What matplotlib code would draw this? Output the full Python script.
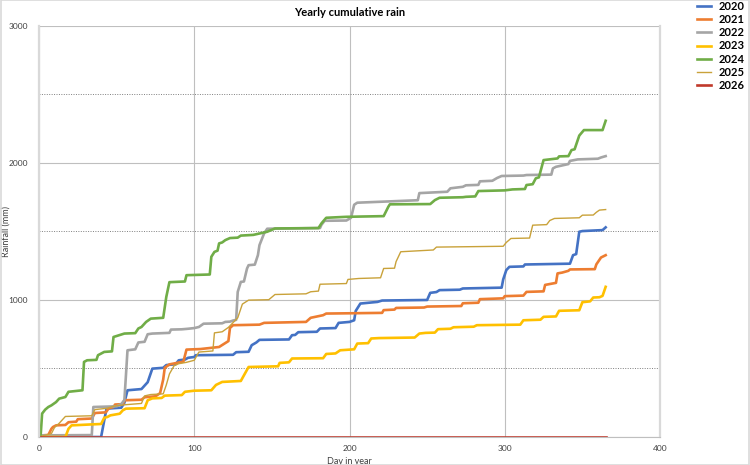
import matplotlib
matplotlib.use("Agg")
import matplotlib.pyplot as plt
from matplotlib.ticker import MultipleLocator

plt.rcParams['font.family'] = ['Lato', 'DejaVu Sans']

# (day, cumulative mm)
rain_2020 = [(0, 0), (40, 0), (42, 120), (43.5, 207), (53, 214), (55, 250), (57, 341), (66, 350),
             (70, 400), (73, 499), (80, 505), (82, 525), (88, 531), (90, 560), (94, 565), (96, 578),
             (100, 584), (101, 597), (125, 600), (127, 619), (135, 622), (137, 670), (140, 690),
             (142, 709), (161, 712), (163, 743), (165, 745), (167, 765), (179, 768), (181, 792),
             (191, 795), (193, 833), (200, 840), (203, 852), (204, 920), (207, 974), (218, 986),
             (221, 996), (250, 1000), (252, 1052), (256, 1058), (258, 1072), (271, 1075), (273, 1084),
             (298, 1090), (299, 1150), (301, 1218), (303, 1242), (312, 1245), (313, 1259), (342, 1265),
             (344, 1327), (346, 1335), (348, 1498), (350, 1503), (363, 1510), (365, 1530)]
rain_2021 = [(0, 0), (2, 12), (6, 15), (8, 60), (9, 73), (11, 85), (17, 88), (19, 108), (24, 112),
             (25, 130), (34, 135), (36, 175), (43, 180), (45, 210), (48, 219), (49, 237), (54, 240),
             (55, 268), (66, 272), (68, 290), (75, 297), (78, 320), (80, 420), (81, 505), (84, 530),
             (93, 550), (95, 638), (104, 642), (116, 657), (122, 700), (123, 796), (125, 816),
             (142, 820), (145, 833), (172, 840), (175, 870), (183, 889), (185, 901), (200, 903),
             (221, 906), (222, 926), (229, 930), (230, 942), (248, 945), (250, 952), (272, 956),
             (273, 976), (283, 980), (284, 1006), (299, 1012), (300, 1028), (312, 1032), (314, 1059),
             (325, 1063), (326, 1110), (333, 1125), (334, 1194), (337, 1200), (341, 1213), (342, 1223),
             (358, 1225), (359, 1260), (362, 1310), (365, 1327)]
rain_2022 = [(0, 0), (1, 12), (34, 14), (35, 219), (50, 224), (53, 240), (55, 270), (56, 450),
             (57, 633), (62, 640), (64, 690), (68, 695), (70, 750), (73, 755), (84, 760), (85, 784),
             (92, 786), (96, 790), (100, 795), (103, 803), (106, 827), (118, 830), (120, 840),
             (123, 842), (125, 850), (127, 855), (128, 1059), (130, 1132), (132, 1135), (134, 1230),
             (135, 1254), (139, 1258), (141, 1327), (142, 1400), (145, 1486), (147, 1520), (181, 1525),
             (182, 1550), (184, 1578), (198, 1580), (201, 1600), (203, 1695), (205, 1710), (244, 1728),
             (245, 1780), (263, 1790), (265, 1815), (273, 1826), (275, 1837), (283, 1840), (284, 1866),
             (292, 1870), (295, 1890), (298, 1905), (312, 1908), (314, 1912), (330, 1915), (331, 1960),
             (333, 1972), (341, 1992), (342, 2015), (347, 2026), (360, 2031), (362, 2040), (365, 2050)]
rain_2023 = [(0, 0), (17, 0), (19, 60), (21, 85), (34, 92), (40, 95), (42, 140), (44, 146), (46, 158),
             (52, 170), (54, 195), (56, 207), (68, 210), (70, 268), (73, 282), (79, 285), (81, 302),
             (92, 306), (94, 330), (100, 338), (111, 341), (114, 380), (118, 402), (130, 409),
             (132, 450), (135, 511), (154, 516), (155, 541), (161, 545), (163, 573), (183, 575),
             (185, 606), (191, 610), (194, 633), (203, 640), (205, 682), (212, 685), (214, 719),
             (219, 722), (242, 726), (245, 755), (249, 760), (255, 762), (257, 787), (265, 790),
             (267, 801), (280, 805), (282, 816), (310, 820), (312, 852), (323, 856), (325, 877),
             (333, 880), (335, 921), (348, 925), (350, 984), (355, 990), (357, 1018), (361, 1020),
             (363, 1030), (365, 1096)]
rain_2024 = [(0, 0), (1, 0), (2, 171), (4, 200), (6, 219), (8, 231), (11, 255), (13, 280), (17, 292),
             (19, 330), (28, 341), (29, 548), (31, 560), (37, 563), (38, 597), (42, 621), (47, 625),
             (48, 730), (55, 755), (62, 758), (64, 792), (66, 803), (69, 840), (72, 864), (80, 870),
             (82, 1023), (84, 1130), (94, 1135), (95, 1181), (110, 1186), (111, 1315), (113, 1351),
             (115, 1360), (116, 1413), (118, 1420), (120, 1437), (123, 1452), (128, 1455), (130, 1470),
             (138, 1475), (147, 1498), (152, 1522), (180, 1525), (182, 1560), (185, 1600), (198, 1607),
             (222, 1612), (225, 1680), (226, 1698), (252, 1700), (255, 1729), (258, 1746), (273, 1750),
             (275, 1753), (281, 1756), (283, 1795), (300, 1800), (305, 1807), (313, 1810), (314, 1839),
             (318, 1845), (320, 1888), (322, 1895), (325, 2021), (334, 2033), (335, 2048), (341, 2050),
             (343, 2094), (345, 2100), (348, 2200), (351, 2240), (363, 2240), (365, 2308)]
rain_2025 = [(0, 0), (3, 10), (8, 25), (10, 70), (13, 100), (17, 150), (34, 155), (36, 200), (44, 210),
             (48, 225), (55, 235), (66, 245), (68, 300), (72, 310), (80, 315), (82, 380), (84, 460),
             (87, 520), (90, 535), (95, 545), (100, 560), (103, 620), (112, 628), (113, 760), (118, 768),
             (122, 800), (128, 870), (131, 970), (135, 999), (148, 1002), (152, 1040), (172, 1045),
             (175, 1060), (180, 1065), (181, 1115), (198, 1120), (199, 1150), (206, 1157), (220, 1162),
             (222, 1230), (229, 1232), (230, 1280), (233, 1352), (254, 1365), (256, 1386), (299, 1392),
             (301, 1420), (304, 1449), (316, 1452), (318, 1546), (327, 1550), (329, 1580), (332, 1595),
             (348, 1600), (350, 1619), (357, 1620), (359, 1640), (361, 1656), (365, 1660)]
rain_2026 = [(0, 0), (365, 0)]

years = ['2020', '2021', '2022', '2023', '2024', '2025', '2026']
series = [rain_2020, rain_2021, rain_2022, rain_2023, rain_2024, rain_2025, rain_2026]
colors = ['#4472C4', '#ED7D31', '#A5A5A5', '#FFC000', '#70AD47', '#C9A23A', '#C0392B']
widths = [1.9, 1.9, 1.9, 1.9, 1.9, 1.0, 1.9]

fig = plt.figure(figsize=(7.5, 4.65), dpi=100)
ax = fig.add_axes([0.052, 0.0602, 0.828, 0.884])

for year, data, c, lw in zip(years, series, colors, widths):
    days = [d for d, v in data]
    mm = [v for d, v in data]
    ax.plot(days, mm, color=c, lw=lw, label=year, solid_joinstyle='round')

ax.set_xlim(0, 400)
ax.set_ylim(0, 3000)
ax.xaxis.set_major_locator(MultipleLocator(100))
ax.yaxis.set_major_locator(MultipleLocator(1000))
ax.yaxis.set_minor_locator(MultipleLocator(500))
ax.grid(True, which='major', color='#BFBFBF', lw=0.8)
ax.grid(True, which='minor', axis='y', color='#7F7F7F', lw=0.7, ls=(0, (1, 1.5)))
ax.grid(False, which='minor', axis='x')
ax.set_axisbelow(True)

for s in ['left', 'right']:
    ax.spines[s].set_color('#D9D9D9')
    ax.spines[s].set_linewidth(1.6)
ax.spines['top'].set_visible(False)
ax.spines['bottom'].set_color('#BFBFBF')
ax.spines['bottom'].set_linewidth(0.8)

ax.tick_params(which='both', length=0, labelsize=6, colors='#404040', pad=6)
ax.tick_params(axis='y', pad=8)

ax.set_title('Yearly cumulative rain', fontsize=8, fontweight='bold', pad=7)
ax.set_xlabel('Day in year', fontsize=6.5, color='#404040', labelpad=3)
ax.set_ylabel('Rainfall (mm)', fontsize=6.5, color='#404040')
ax.yaxis.set_label_coords(-0.045, 0.5)

fig.legend(loc='upper left', bbox_to_anchor=(0.927, 1.003), frameon=False,
           prop={'size': 8, 'weight': 'bold'}, handlelength=1.2, handletextpad=0.7,
           labelspacing=0.2, borderaxespad=0, borderpad=0.2)

fig.patches.append(plt.Rectangle((0.001, 0.001), 0.998, 0.998, transform=fig.transFigure,
                                 fill=False, edgecolor='#D9D9D9', lw=1.2))

fig.savefig('out.png', dpi=100)
